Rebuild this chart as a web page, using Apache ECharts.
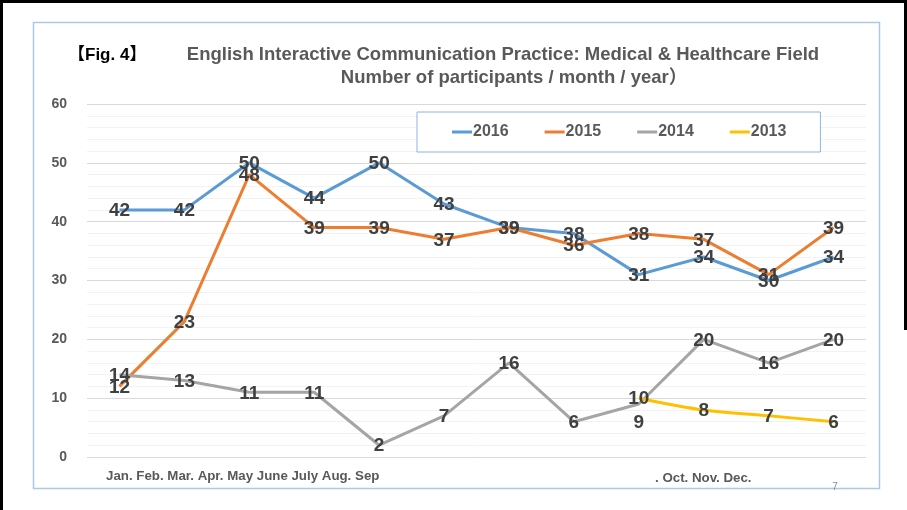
<!DOCTYPE html>
<html>
<head>
<meta charset="utf-8">
<script src="https://cdn.jsdelivr.net/npm/echarts@6/dist/echarts.min.js"></script>
<style>
html, body { margin: 0; padding: 0; background: #fff; }
#chart { width: 907px; height: 510px; }
</style>
</head>
<body>
<div id="chart"></div>
<script>
// data
const months = ['Jan.', 'Feb.', 'Mar.', 'Apr.', 'May', 'June', 'July', 'Aug.', 'Sep', 'Oct.', 'Nov.', 'Dec.']
const years = ['2016', '2015', '2014', '2013']
const data2016 = [42, 42, 50, 44, 50, 43, 39, 38, 31, 34, 30, 34]
const data2015 = [12, 23, 48, 39, 39, 37, 39, 36, 38, 37, 31, 39]
const data2014 = [14, 13, 11, 11, 2, 7, 16, 6, 9, 20, 16, 20]
const data2013 = [null, null, null, null, null, null, null, null, 10, 8, 7, 6]
const yTicks = [0, 10, 20, 30, 40, 50, 60]

const FONT = '"Liberation Sans", Arial, "Noto Sans CJK JP", sans-serif'
const colors = ['#5B9BD5', '#ED7D31', '#A5A5A5', '#FFC000']

function lineSeries(name, values, color, smooth, labelShift) {
	return {
		name: name,
		type: 'line',
		// labelShift: {index: [dx, dy]} moves single labels like the original
		data: values.map((v, i) => {
			if (labelShift && labelShift[i]) {
				return { value: v, label: { offset: labelShift[i] } }
			}
			return v
		}),
		smooth: smooth ? 0.35 : false,
		symbol: 'circle',
		symbolSize: 0,
		showSymbol: true,
		connectNulls: false,
		lineStyle: { color: color, width: 3 },
		itemStyle: { color: color },
		label: {
			show: true,
			position: 'inside',
			offset: [0, 1],
			color: '#404040',
			fontSize: 19,
			fontWeight: 'bold',
			fontFamily: FONT,
		},
		emphasis: { disabled: true },
	}
}

// tick label strings as they sit under the plot
const tickTextLeft = months.slice(0, 9).join(' ')
const tickTextRight = '. ' + months.slice(9).join(' ')

let chart = echarts.init(document.getElementById('chart'), null, { renderer: 'canvas' })

let option = {
	backgroundColor: '#fff',
	animation: false,
	color: colors,
	grid: {
		left: 87,
		right: 41,
		top: 104,
		bottom: 53,
		containLabel: false,
		outerBoundsMode: 'none',
	},
	legend: {
		data: years,
		left: 417,
		top: 112,
		orient: 'horizontal',
		padding: [12, 34, 12, 35],
		itemGap: 36,
		itemWidth: 20,
		itemHeight: 3,
		icon: 'rect',
		borderColor: '#8FB4E3',
		borderWidth: 1,
		backgroundColor: '#fff',
		textStyle: {
			color: '#595959',
			fontSize: 16,
			fontWeight: 'bold',
			fontFamily: FONT,
			padding: [0, 0, 0, -4],
		},
	},
	xAxis: {
		type: 'category',
		data: months,
		boundaryGap: true,
		axisLine: { show: false },
		axisTick: { show: false },
		axisLabel: { show: false },
		splitLine: { show: false },
	},
	yAxis: {
		type: 'value',
		min: yTicks[0],
		max: yTicks[yTicks.length - 1],
		interval: 10,
		axisLine: { show: false },
		axisTick: { show: false },
		axisLabel: {
			color: '#595959',
			fontSize: 14,
			fontWeight: 'bold',
			fontFamily: FONT,
			margin: 20,
		},
		splitLine: { show: true, lineStyle: { color: '#D9D9D9', width: 1 } },
		minorTick: { show: false, splitNumber: 5 },
		minorSplitLine: { show: true, lineStyle: { color: '#F2F2F2', width: 1 } },
	},
	series: [
		lineSeries(years[0], data2016, colors[0], false),
		lineSeries(years[1], data2015, colors[1], false),
		lineSeries(years[2], data2014, colors[2], false, { 8: [0, 19] }),
		lineSeries(years[3], data2013, colors[3], true),
	],
	graphic: [
		// outer black frame (top, left, right)
		{ type: 'line', shape: { x1: 0, y1: 1.5, x2: 907, y2: 1.5 }, style: { stroke: '#000', lineWidth: 3 }, z: 100 },
		{ type: 'line', shape: { x1: 1.5, y1: 0, x2: 1.5, y2: 510 }, style: { stroke: '#000', lineWidth: 3 }, z: 100 },
		{ type: 'line', shape: { x1: 905.5, y1: 0, x2: 905.5, y2: 330 }, style: { stroke: '#000', lineWidth: 3 }, z: 100 },
		// chart area border
		{
			type: 'rect',
			shape: { x: 33.5, y: 22.5, width: 846, height: 466 },
			style: { fill: null, stroke: '#A9C8EA', lineWidth: 1.5 },
			z: -1,
		},
		{
			type: 'text',
			x: 68,
			y: 55,
			style: {
				text: '【Fig. 4】',
				fill: '#000',
				font: 'bold 17px ' + FONT,
				textVerticalAlign: 'middle',
			},
		},
		{
			type: 'text',
			x: 503,
			y: 55,
			style: {
				text: 'English Interactive Communication Practice: Medical & Healthcare Field',
				fill: '#595959',
				font: 'bold 18.5px ' + FONT,
				textAlign: 'center',
				textVerticalAlign: 'middle',
			},
		},
		{
			type: 'text',
			x: 514,
			y: 78,
			style: {
				text: 'Number of participants / month / year）',
				fill: '#595959',
				font: 'bold 18.5px ' + FONT,
				textAlign: 'center',
				textVerticalAlign: 'middle',
			},
		},
		{
			type: 'text',
			x: 106,
			y: 476,
			style: {
				text: tickTextLeft,
				fill: '#595959',
				font: 'bold 13.3px ' + FONT,
				textVerticalAlign: 'middle',
			},
		},
		{
			type: 'text',
			x: 655,
			y: 478,
			style: {
				text: tickTextRight,
				fill: '#595959',
				font: 'bold 13.3px ' + FONT,
				textVerticalAlign: 'middle',
			},
		},
		{
			type: 'text',
			x: 835,
			y: 487,
			style: {
				text: '7',
				fill: '#8C8C8C',
				font: '10px ' + FONT,
				textAlign: 'center',
				textVerticalAlign: 'middle',
			},
		},
	],
}

chart.setOption(option)
window.addEventListener('resize', chart.resize)
</script>
</body>
</html>
